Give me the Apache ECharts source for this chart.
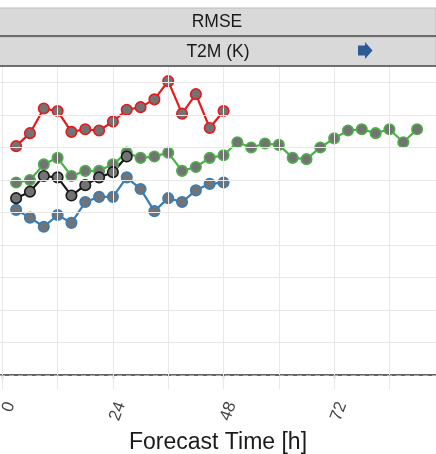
<!DOCTYPE html>
<html>
<head>
<meta charset="utf-8">
<script src="https://cdn.jsdelivr.net/npm/echarts@6/dist/echarts.min.js"></script>
<style>
  html, body { margin: 0; padding: 0; background: #fff; }
  #main { width: 436px; height: 454px; }
</style>
</head>
<body>
<div id="main"></div>
<script>
// forecast lead times (h)
var hoursShort = [3, 6, 9, 12, 15, 18, 21, 24, 27, 30, 33, 36, 39, 42, 45, 48]
var hoursLong = [3, 6, 9, 12, 15, 18, 21, 24, 27, 30, 33, 36, 39, 42, 45, 48,
  51, 54, 57, 60, 63, 66, 69, 72, 75, 78, 81, 84, 87, 90]
var hoursBlack = [3, 6, 9, 12, 15, 18, 21, 24, 27]

// RMSE T2M (K)
var redValues = [1.76, 1.86, 2.05, 2.03, 1.87, 1.89, 1.88, 1.95, 2.04, 2.06, 2.12, 2.26, 2.01, 2.16, 1.90, 2.03]
var greenValues = [1.48, 1.50, 1.62, 1.67, 1.53, 1.57, 1.57, 1.62, 1.71, 1.67, 1.68, 1.71, 1.57, 1.60, 1.67, 1.69,
  1.79, 1.75, 1.78, 1.77, 1.67, 1.66, 1.75, 1.82, 1.88, 1.89, 1.86, 1.89, 1.79, 1.89]
var blackValues = [1.36, 1.41, 1.53, 1.52, 1.38, 1.46, 1.52, 1.56, 1.68]
var blueValues = [1.27, 1.21, 1.14, 1.23, 1.17, 1.33, 1.37, 1.37, 1.52, 1.43, 1.26, 1.36, 1.33, 1.42, 1.47, 1.48]

var xLabelHours = [0, 24, 48, 72]
var xGridHours = [0, 12, 24, 36, 48, 60, 72, 84]
var yGridValues = [0.25, 0.5, 0.75, 1, 1.25, 1.5, 1.75, 2, 2.25]

var stripTitle = 'RMSE'
var panelTitle = 'T2M (K)'

function pairs(xs, ys) {
  var out = []
  for (var i = 0; i < xs.length; i++) {
    out.push([xs[i], ys[i]])
  }
  return out
}

function makeLine(name, color, xs, ys) {
  return {
    name: name,
    type: 'line',
    z: 3,
    data: pairs(xs, ys),
    symbol: 'circle',
    symbolSize: 10.5,
    lineStyle: { color: color, width: 2.2 },
    itemStyle: { color: '#737373', borderColor: color, borderWidth: 1.6 },
    animation: false
  }
}

var gridLines = []
for (var i = 0; i < xGridHours.length; i++) {
  gridLines.push({ xAxis: xGridHours[i] })
}
for (var j = 0; j < yGridValues.length; j++) {
  gridLines.push({ yAxis: yGridValues[j] })
}

var myChart = echarts.init(document.getElementById('main'))

var option = {
  backgroundColor: '#ffffff',
  textStyle: { fontFamily: 'Liberation Sans' },
  grid: { left: 0, right: 0, top: 67, bottom: 64.5, containLabel: false, outerBoundsMode: 'none' },
  xAxis: {
    type: 'value',
    min: -0.5,
    max: 94.1,
    name: 'Forecast Time [h]',
    nameLocation: 'middle',
    nameGap: 42,
    nameTextStyle: { fontSize: 23, color: '#1a1a1a', fontFamily: 'Liberation Sans' },
    splitLine: { show: false },
    axisLine: { show: true, lineStyle: { color: '#333', width: 1.5 } },
    axisTick: { show: true, customValues: xLabelHours, length: 4, lineStyle: { color: '#333', width: 1.2 } },
    axisLabel: {
      customValues: xLabelHours,
      rotate: 70,
      margin: 10,
      fontSize: 17,
      color: '#444',
      verticalAlign: 'top'
    }
  },
  yAxis: {
    type: 'value',
    min: -0.112,
    max: 2.369,
    axisLine: { show: false },
    axisTick: { show: false },
    axisLabel: { show: false },
    splitLine: { show: false }
  },
  graphic: [
    { type: 'rect', shape: { x: -1, y: 8, width: 437, height: 28 }, style: { fill: '#d9d9d9', stroke: '#bdbdbd', lineWidth: 1 } },
    { type: 'rect', shape: { x: -1, y: 37, width: 437, height: 29 }, style: { fill: '#d9d9d9', stroke: '#bdbdbd', lineWidth: 1 } },
    { type: 'line', shape: { x1: 0, y1: 36, x2: 436, y2: 36 }, style: { stroke: '#4d4d4d', lineWidth: 1.5 } },
    { type: 'line', shape: { x1: 0, y1: 66, x2: 436, y2: 66 }, style: { stroke: '#4d4d4d', lineWidth: 1.5 } },
    { type: 'text', x: 217, y: 22.5, style: { text: stripTitle, fill: '#1a1a1a', fontSize: 17.5, fontFamily: 'Liberation Sans', align: 'center', verticalAlign: 'middle' } },
    { type: 'text', x: 218, y: 52, style: { text: panelTitle, fill: '#1a1a1a', fontSize: 17.5, fontFamily: 'Liberation Sans', align: 'center', verticalAlign: 'middle' } },
    {
      type: 'polygon',
      shape: { points: [[358, 45.5], [365, 45.5], [365, 42], [372.5, 50.5], [365, 59], [365, 55.5], [358, 55.5]] },
      style: { fill: '#2e5a94' }
    }
  ],
  series: [
    {
      name: 'grid',
      type: 'line',
      z: 1,
      data: [],
      silent: true,
      markLine: {
        silent: true,
        symbol: ['none', 'none'],
        animation: false,
        label: { show: false },
        lineStyle: { color: '#e8e8e8', width: 1, type: 'solid' },
        data: gridLines
      }
    },
    {
      name: 'zero',
      type: 'line',
      z: 1,
      data: [],
      silent: true,
      markLine: {
        silent: true,
        symbol: ['none', 'none'],
        animation: false,
        label: { show: false },
        lineStyle: { color: '#a8a8a8', width: 1, type: [5, 4] },
        data: [{ yAxis: 0 }]
      }
    },
    makeLine('green', '#4daf4a', hoursLong, greenValues),
    makeLine('blue', '#377eb8', hoursShort, blueValues),
    makeLine('black', '#1a1a1a', hoursBlack, blackValues),
    makeLine('red', '#e41a1c', hoursShort, redValues)
  ],
  animation: false
}

myChart.setOption(option)
</script>
</body>
</html>
